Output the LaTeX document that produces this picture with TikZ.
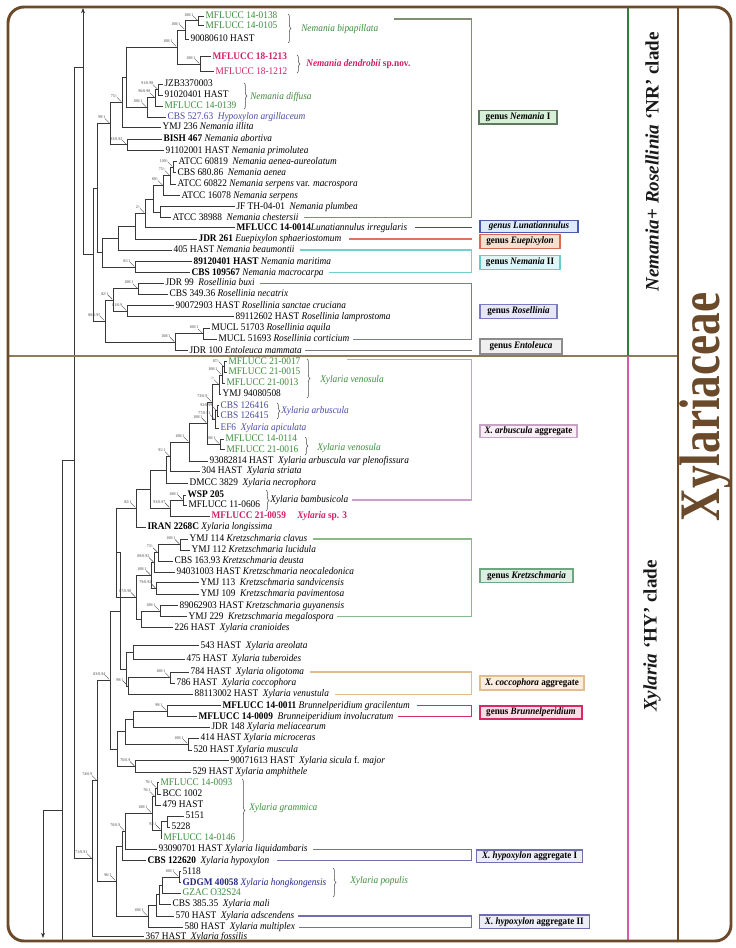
\documentclass[tikz,border=0pt]{standalone}
\usepackage{fontspec}
\setmainfont{Liberation Serif}
\newfontfamily\txf{Liberation Serif}[FakeStretch=0.92]
\usetikzlibrary{calc,decorations.pathreplacing,arrows.meta}
\definecolor{gr}{HTML}{3C8C3C}
\definecolor{mg}{HTML}{D01F66}
\definecolor{bl}{HTML}{4A4AA6}
\definecolor{db}{HTML}{26268C}
\definecolor{frm}{HTML}{6B4A2B}
\definecolor{trc}{HTML}{383838}
\definecolor{dvd}{HTML}{8C7B5B}
\definecolor{grl}{HTML}{2F7F3F}
\definecolor{pkl}{HTML}{D45BAA}
\newcommand\Gc[1]{\textcolor{gr}{#1}}
\newcommand\Bc[1]{\textcolor{bl}{#1}}
\newcommand\Mc[1]{\textcolor{mg}{#1}}
\newcommand\tn[4]{\node[taxon] (#1) at (#2-1,#3) {#4};}
\newcommand\nd[4]{\path let \p1=(#3), \p2=(#4) in ({#2*0.75pt},{0.5*\y1+0.5*\y2}) coordinate (#1);
  \draw[tree] (#1) |- (#3); \draw[tree] (#1) |- (#4);}
\newcommand\bs[2]{\node[bsl] at ($(#1)+(-4.5,-4.5)$) {#2};\draw[bst] ($(#1)+(-5,-5)$) -- ($(#1)+(-0.8,-0.8)$);}
\begin{document}
\begin{tikzpicture}[x=0.75pt,y=-0.75pt,
  taxon/.style={anchor=west,inner xsep=1pt,inner ysep=0pt,text height=5.2pt,text depth=1.6pt,font=\txf\fontsize{7.6}{8}\selectfont},
  spl/.style={anchor=west,inner sep=0pt,font=\txf\fontsize{7.6}{8}\selectfont\itshape},
  tree/.style={draw=trc,line width=0.55pt},
  bsl/.style={anchor=south east,inner sep=0pt,font=\txf\fontsize{3.2}{3.2}\selectfont,text=black!75},
  bst/.style={draw=black!70,line width=0.3pt},
  brc/.style={draw=black!70,line width=0.4pt,decorate,decoration={brace,amplitude=2.2pt}},
  bx/.style={line width=0.9pt,inner sep=0pt,font=\txf\fontsize{7.4}{8}\selectfont\bfseries},
  cl/.style={line width=0.8pt}]
\useasboundingbox (0,0) rectangle (735,948);
% ---------------- taxa ----------------
\tn{t1}{205}{16}{\Gc{MFLUCC 14-0138}}
\tn{t2}{205}{25.7}{\Gc{MFLUCC 14-0105}}
\tn{t3}{190}{39}{90080610 HAST}
\tn{t4}{212}{56.7}{\Mc{\bfseries MFLUCC 18-1213}}
\tn{t5}{215}{71.7}{\Mc{MFLUCC 18-1212}}
\tn{t6}{164}{84.3}{JZB3370003}
\tn{t7}{164}{95}{91020401 HAST}
\tn{t8}{164}{106}{\Gc{MFLUCC 14-0139}}
\tn{t9}{167}{117.3}{\Bc{CBS 527.63\ \ \textit{Hypoxylon argillaceum}}}
\tn{t10}{162}{127.3}{YMJ 236 \textit{Nemania illita}}
\tn{t11}{163}{139}{\textbf{BISH 467} \textit{Nemania abortiva}}
\tn{t12}{165}{150.7}{91102001 HAST \textit{Nemania primolutea}}
\tn{t13}{178}{161.7}{ATCC 60819\ \ \textit{Nemania aenea-aureolatum}}
\tn{t14}{177}{172.7}{CBS 680.86\ \ \textit{Nemania aenea}}
\tn{t15}{177}{184}{ATCC 60822 \textit{Nemania serpens} var. \textit{macrospora}}
\tn{t16}{181}{195.7}{ATCC 16078 \textit{Nemania serpens}}
\tn{t17}{236}{206.7}{JF TH-04-01\ \ \textit{Nemania plumbea}}
\tn{t18}{172}{217.7}{ATCC 38988\ \ \textit{Nemania chestersii}}
\tn{t19}{236}{227.7}{\textbf{MFLUCC 14-0014}\textit{Lunatiannulus irregularis}}
\tn{t20}{198}{239}{\textbf{JDR 261} \textit{Euepixylon sphaeriostomum}}
\tn{t21}{173}{250}{405 HAST \textit{Nemania beaumontii}}
\tn{t22}{193}{261.7}{\textbf{89120401 HAST} \textit{Nemania maritima}}
\tn{t23}{191}{272.7}{\textbf{CBS 109567} \textit{Nemania macrocarpa}}
\tn{t24}{165}{283.3}{JDR 99\ \ \textit{Rosellinia buxi}}
\tn{t25}{169}{294.3}{CBS 349.36 \textit{Rosellinia necatrix}}
\tn{t26}{175}{305.7}{90072903 HAST \textit{Rosellinia sanctae cruciana}}
\tn{t27}{235}{316.7}{89112602 HAST \textit{Rosellinia lamprostoma}}
\tn{t28}{211}{328.3}{MUCL 51703 \textit{Rosellinia aquila}}
\tn{t29}{218}{339.3}{MUCL 51693 \textit{Rosellinia corticium}}
\tn{t30}{189}{350.7}{JDR 100 \textit{Entoleuca mammata}}
\tn{t31}{228}{361.7}{\Gc{MFLUCC 21-0017}}
\tn{t32}{228}{372}{\Gc{MFLUCC 21-0015}}
\tn{t33}{226}{383.3}{\Gc{MFLUCC 21-0013}}
\tn{t34}{222}{394.3}{YMJ 94080508}
\tn{t35}{220}{405.7}{\Bc{CBS 126416}}
\tn{t36}{220}{416}{\Bc{CBS 126415}}
\tn{t37}{220}{428.3}{\Bc{EF6\ \ \textit{Xylaria apiculata}}}
\tn{t38}{225}{439}{\Gc{MFLUCC 14-0114}}
\tn{t39}{226}{449.7}{\Gc{MFLUCC 21-0016}}
\tn{t40}{209}{461}{93082814 HAST\ \ \textit{Xylaria arbuscula var plenofissura}}
\tn{t41}{201}{471.3}{304 HAST\ \ \textit{Xylaria striata}}
\tn{t42}{189}{483.3}{DMCC 3829\ \ \textit{Xylaria necrophora}}
\tn{t43}{187}{495}{\textbf{WSP 205}}
\tn{t44}{188}{505}{MFLUCC 11-0606}
\tn{t45}{211}{516}{\Mc{\bfseries MFLUCC 21-0059}}
\tn{t46}{147}{527.3}{\textbf{IRAN 2268C} \textit{Xylaria longissima}}
\tn{t47}{189}{539}{YMJ 114 \textit{Kretzschmaria clavus}}
\tn{t48}{191}{550}{YMJ 112 \textit{Kretzschmaria lucidula}}
\tn{t49}{174}{561}{CBS 163.93 \textit{Kretzschmaria deusta}}
\tn{t50}{176}{572.3}{94031003 HAST \textit{Kretzschmaria neocaledonica}}
\tn{t51}{200}{582.7}{YMJ 113\ \ \textit{Kretzschmaria sandvicensis}}
\tn{t52}{200}{594.3}{YMJ 109\ \ \textit{Kretzschmaria pavimentosa}}
\tn{t53}{179}{605.7}{89062903 HAST \textit{Kretzschmaria guyanensis}}
\tn{t54}{188}{616.7}{YMJ 229\ \ \textit{Kretzschmaria megalospora}}
\tn{t55}{174}{627.7}{226 HAST\ \ \textit{Xylaria cranioides}}
\tn{t56}{200}{645.7}{543 HAST\ \ \textit{Xylaria areolata}}
\tn{t57}{186}{659}{475 HAST\ \ \textit{Xylaria tuberoides}}
\tn{t58}{190}{672}{784 HAST\ \ \textit{Xylaria oligotoma}}
\tn{t59}{176}{683.3}{786 HAST\ \ \textit{Xylaria coccophora}}
\tn{t60}{194}{694.3}{88113002 HAST\ \ \textit{Xylaria venustula}}
\tn{t61}{222}{705.7}{\textbf{MFLUCC 14-0011} \textit{Brunnelperidium gracilentum}}
\tn{t62}{198}{716.7}{\textbf{MFLUCC 14-0009}\ \ \textit{Brunneiperidium involucratum}}
\tn{t63}{211}{727.3}{JDR 148 \textit{Xylaria meliacearum}}
\tn{t64}{200}{738.3}{414 HAST \textit{Xylaria microceras}}
\tn{t65}{193}{750}{520 HAST \textit{Xylaria muscula}}
\tn{t66}{230}{760.7}{90071613 HAST\ \ \textit{Xylaria sicula} f. \textit{major}}
\tn{t67}{192}{772.3}{529 HAST \textit{Xylaria amphithele}}
\tn{t68}{160}{782.7}{\Gc{MFLUCC 14-0093}}
\tn{t69}{162}{794}{BCC 1002}
\tn{t70}{162}{805}{479 HAST}
\tn{t71}{185}{816}{5151}
\tn{t72}{171}{827.3}{5228}
\tn{t73}{163}{838.3}{\Gc{MFLUCC 14-0146}}
\tn{t74}{158}{849.3}{93090701 HAST \textit{Xylaria liquidambaris}}
\tn{t75}{147}{860.7}{\textbf{CBS 122620}\ \ \textit{Xylaria hypoxylon}}
\tn{t76}{182}{871.7}{5118}
\tn{t77}{182}{882.7}{\textcolor{db}{\textbf{GDGM 40058} \textit{Xylaria hongkongensis}}}
\tn{t78}{182}{893.3}{\Gc{GZAC O32S24}}
\tn{t79}{172}{904.3}{CBS 385.35\ \ \textit{Xylaria mali}}
\tn{t80}{175}{916}{570 HAST\ \ \textit{Xylaria adscendens}}
\tn{t81}{184}{927.3}{580 HAST\ \ \textit{Xylaria multiplex}}
\tn{t82}{145}{936.7}{367 HAST\ \ \textit{Xylaria fossilis}}
% ---------------- tree: NR clade ----------------
\nd{A}{198}{t1.west}{t2.west}
\nd{B}{185}{A}{t3.west}
\nd{D}{200}{t4.west}{t5.west}
\nd{C}{177}{B}{D}
\nd{G}{158}{t6.west}{t7.west}
\nd{H}{155}{G}{t8.west}
\nd{I}{147}{H}{t9.west}
\nd{E}{126}{C}{I}
\nd{J}{122}{E}{t10.west}
\nd{L}{127}{t11.west}{t12.west}
\nd{K}{110}{J}{L}
\nd{M}{173}{t13.west}{t14.west}
\nd{N}{170}{M}{t15.west}
\nd{O}{163}{N}{t16.west}
\nd{Q}{160}{t17.west}{t18.west}
\nd{P}{153}{O}{Q}
\nd{U}{145}{P}{t19.west}
\nd{V}{135}{U}{t20.west}
\nd{W}{118}{V}{t21.west}
\nd{X2}{135}{t22.west}{t23.west}
\nd{Y}{102}{W}{X2}
\nd{T}{97}{K}{Y}
\nd{Z1}{138}{t24.west}{t25.west}
\nd{Z2}{127}{t26.west}{t27.west}
\nd{Z3}{113}{Z1}{Z2}
\nd{Z4}{203}{t28.west}{t29.west}
\nd{Z5}{175}{Z4}{t30.west}
\nd{Z6}{105}{Z3}{Z5}
\nd{S}{93}{T}{Z6}
% ---------------- tree: HY clade ----------------
\nd{a1}{224}{t31.west}{t32.west}
\nd{a2}{222}{a1}{t33.west}
\nd{a2b}{219}{a2}{t34.west}
\nd{b1}{217}{t35.west}{t36.west}
\nd{b2}{215}{b1}{t37.west}
\nd{a3}{212}{a2b}{b2}
\nd{c1}{220}{t38.west}{t39.west}
\nd{b3}{207}{a3}{c1}
\nd{d1}{189}{b3}{t40.west}
\nd{d2}{170}{d1}{t41.west}
\nd{d3}{166}{d2}{t42.west}
\nd{e1}{183}{t43.west}{t44.west}
\nd{e2}{170}{e1}{t45.west}
\nd{e3}{150}{d3}{e2}
\nd{e4}{136}{e3}{t46.west}
\nd{k1}{180}{t47.west}{t48.west}
\nd{k2}{158}{k1}{t49.west}
\nd{k3}{154}{k2}{t50.west}
\nd{k4}{156}{t51.west}{t52.west}
\nd{k5}{151}{k3}{k4}
\nd{k6}{160}{t53.west}{t54.west}
\nd{k7}{141}{k6}{t55.west}
\nd{k8}{136}{k5}{k7}
\nd{k9}{116}{e4}{k8}
\nd{f1}{133}{t56.west}{t57.west}
\nd{f2}{170}{t58.west}{t59.west}
\nd{f3}{128}{f2}{t60.west}
\nd{f4}{126}{f1}{f3}
\nd{h1}{120}{k9}{f4}
\nd{g1}{167}{t61.west}{t62.west}
\nd{g2}{133}{g1}{t63.west}
\nd{g3}{188}{t64.west}{t65.west}
\nd{g4}{125}{g2}{g3}
\nd{g5}{135}{t66.west}{t67.west}
\nd{g6}{117}{g4}{g5}
\nd{N3}{110}{h1}{g6}
\nd{m1}{157}{t68.west}{t69.west}
\nd{m2}{155}{m1}{t70.west}
\nd{m3}{167}{t71.west}{t72.west}
\nd{m4}{161}{m3}{t73.west}
\nd{m5}{152}{m2}{m4}
\nd{m6}{125}{m5}{t74.west}
\nd{m7}{122}{m6}{t75.west}
\nd{p1}{179}{t76.west}{t77.west}
\nd{p2}{162}{p1}{t78.west}
\nd{p3}{159}{p2}{t79.west}
\nd{p4}{156}{p3}{t80.west}
\nd{p5}{148}{p4}{t81.west}
\nd{N4}{116}{m7}{p5}
\nd{N2}{97}{N3}{N4}
\nd{N1}{92}{N2}{t82.west}
% ---------------- root lines ----------------
\coordinate (nrx) at (83,0);
\coordinate (r0) at (74,67);
\coordinate (r1) at (62,460);
\coordinate (r2) at (43,810);
\draw[tree] (S) -- (S -| nrx);
\draw[tree,-{Stealth[length=4pt,width=3pt]}] (S -| nrx) -- (83,8);
\draw[tree] (r0) -- (r0 -| nrx);
\draw[tree] (r0) |- (N1);
\draw[tree] (r1) -- (r1 -| r0);
\draw[tree] (r1) -- (62,940);
\draw[tree] (r2) -- (r2 -| r1);
\draw[tree,-{Stealth[length=4pt,width=3pt]}] (r2) -- (43,938);
% ---------------- support values ----------------
\bs{A}{100/1}\bs{B}{100/1}\bs{C}{100/1}\bs{D}{100/1}
\bs{G}{91/0.98}\bs{H}{96/0.98}\bs{I}{100/1}\bs{J}{75/-}\bs{K}{99/1}\bs{L}{93/0.92}
\bs{M}{100/-}\bs{N}{75/-}\bs{O}{89/-}\bs{U}{2/-}\bs{X2}{81/1}
\bs{Z1}{100/1}\bs{Z2}{81/0.9}\bs{Z3}{82/1}\bs{Z4}{100/1}\bs{Z5}{100/1}\bs{Z6}{88/0.95}
\bs{a1}{87/-}\bs{a2}{100/1}\bs{a2b}{-/-}\bs{a3}{73/0.9}\bs{b1}{93/0.99}\bs{b2}{77/0.51}
\bs{b3}{100/1}\bs{c1}{100/1}\bs{d1}{100/1}\bs{d2}{91/1}\bs{e1}{100/1}\bs{e2}{93/0.97}\bs{e4}{82/1}
\bs{k1}{100/1}\bs{k2}{73/-}\bs{k3}{89/0.92}\bs{k4}{79/0.92}\bs{k5}{100/1}\bs{k6}{100/1}\bs{k8}{67/0.98}
\bs{N3}{83/0.94}\bs{f2}{100/1}\bs{f3}{99/1}\bs{g1}{99/1}\bs{g3}{100/1}\bs{g5}{76/0.9}
\bs{N2}{74/0.9}\bs{N1}{71/0.91}\bs{m1}{76/1}\bs{m2}{76/1}\bs{m5}{100/1}\bs{m4}{93/1}\bs{m6}{70/0.9}
\bs{N4}{96/1}\bs{p1}{100/1}\bs{p5}{100/1}
% ---------------- species braces ----------------
\draw[brc] (288,14) -- (288,43);   \node[spl,text=gr] (sp1) at (301,29.3) {Nemania bipapillata};
\draw[brc] (297,55) -- (297,73);   \node[spl,text=mg,font=\txf\fontsize{7.6}{8}\selectfont\bfseries] (sp2) at (306,64) {\textit{Nemania dendrobii} sp.nov.};
\draw[brc] (244,83) -- (244,109);  \node[spl,text=gr] (sp3) at (250,97) {Nemania diffusa};
\draw[brc] (307,359) -- (307,398); \node[spl,text=gr] (sp4) at (320,380) {Xylaria venosula};
\draw[brc] (277,403) -- (277,419); \node[spl,text=bl] (sp5) at (281,411) {Xylaria arbuscula};
\draw[brc] (305,437) -- (305,455); \node[spl,text=gr] (sp6) at (317,448) {Xylaria venosula};
\draw[brc] (266,490) -- (266,511); \node[spl] (sp7) at (270,500) {Xylaria bambusicola};
\draw[brc] (242,779) -- (242,842); \node[spl,text=gr] (sp8) at (249,808) {Xylaria grammica};
\draw[brc] (333,868) -- (333,897); \node[spl,text=gr] (sp9) at (350,881) {Xylaria populis};
\node[spl,text=mg,font=\txf\fontsize{7.6}{8}\selectfont\bfseries] (sp10) at (297,516) {\textit{Xylaria} sp. 3};
% ---------------- group connectors ----------------
\coordinate (kx) at (471.5,0);
\coordinate (q1s) at (394,19);
\coordinate (q7s) at (347,359.5);
\draw[cl,draw={rgb,255:red,127;green,143;blue,112}] (q1s) -- (q1s -| kx) -- (t18.east -| kx) -- ($(t18.east)+(4,0)$);
\draw[cl,draw={rgb,255:red,58;green,74;blue,160}] ($(t19.east)+(6,0)$) -- (t19.east -| kx);
\draw[cl,draw={rgb,255:red,224;green,112;blue,96}] ($(t20.east)+(6,0)$) -- (t20.east -| kx);
\draw[cl,draw={rgb,255:red,112;green,208;blue,208}] ($(t21.east)+(4,0)$) -- (t21.east -| kx) -- (t23.east -| kx) -- ($(t23.east)+(4,0)$);
\draw[cl,draw={rgb,255:red,119;green,119;blue,192}] ($(t24.east)+(4,0)$) -- (t24.east -| kx) -- (t29.east -| kx) -- ($(t29.east)+(2,0)$);
\draw[cl,draw={rgb,255:red,119;green,119;blue,119}] ($(t30.east)+(2,0)$) -- (t30.east -| kx);
\draw[cl,draw={rgb,255:red,200;green,160;blue,200}] (q7s) -- (q7s -| kx) -- (sp7.east -| kx) -- ($(sp7.east)+(4,0)$);
\draw[cl,draw={rgb,255:red,136;green,187;blue,136}] ($(t47.east)+(4,0)$) -- (t47.east -| kx) -- (t54.east -| kx) -- ($(t54.east)+(2,0)$);
\draw[cl,draw={rgb,255:red,224;green,188;blue,140}] ($(t58.east)+(4,0)$) -- (t58.east -| kx) -- (t60.east -| kx) -- ($(t60.east)+(4,0)$);
\draw[cl,draw={rgb,255:red,208;green,48;blue,106}] ($(t61.east)+(6,0)$) -- (t61.east -| kx) -- (t62.east -| kx) -- ($(t62.east)+(3,0)$);
\draw[cl,draw={rgb,255:red,112;green,112;blue,176}] ($(t74.east)+(4,0)$) -- (t74.east -| kx) -- (t75.east -| kx) -- ($(t75.east)+(6,0)$);
\draw[cl,draw={rgb,255:red,112;green,112;blue,176}] ($(t80.east)+(2,0)$) -- (t80.east -| kx) -- (t81.east -| kx) -- ($(t81.east)+(2,0)$);
% ---------------- group boxes ----------------
\node[bx,draw={rgb,255:red,94;green,122;blue,94},fill={rgb,255:red,216;green,239;blue,216},minimum width={78*0.75pt},minimum height={13.3*0.75pt}] (g1b) at (518,117.3) {genus \textit{Nemania} I};
\node[bx,draw={rgb,255:red,74;green,91;blue,176},fill={rgb,255:red,221;green,235;blue,250},minimum width={98*0.75pt},minimum height={12.7*0.75pt}] (g2b) at (529,226.5) {\textit{genus Lunatiannulus}};
\node[bx,draw={rgb,255:red,217;green,105;blue,79},fill={rgb,255:red,246;green,223;blue,207},minimum width={80*0.75pt},minimum height={14*0.75pt}] (g3b) at (520,241.3) {genus \textit{Euepixylon}};
\node[bx,draw={rgb,255:red,102;green,204;blue,204},fill={rgb,255:red,226;green,245;blue,245},minimum width={80*0.75pt},minimum height={13.6*0.75pt}] (g4b) at (520,262.5) {genus \textit{Nemania} II};
\node[bx,draw={rgb,255:red,123;green,123;blue,192},fill={rgb,255:red,230;green,230;blue,245},minimum width={77*0.75pt},minimum height={14*0.75pt}] (g5b) at (518.5,311.3) {genus \textit{Rosellinia}};
\node[bx,draw={rgb,255:red,140;green,140;blue,140},fill={rgb,255:red,239;green,239;blue,239},minimum width={82*0.75pt},minimum height={15*0.75pt}] (g6b) at (521,346.5) {genus \textit{Entoleuca}};
\node[bx,draw={rgb,255:red,201;green,163;blue,196},fill={rgb,255:red,249;green,238;blue,245},minimum width={97*0.75pt},minimum height={12.7*0.75pt}] (g7b) at (528.5,431.3) {\textit{X. arbuscula} aggregate};
\node[bx,draw={rgb,255:red,111;green,166;blue,127},fill={rgb,255:red,220;green,239;blue,227},minimum width={93*0.75pt},minimum height={13.3*0.75pt}] (g8b) at (526.5,575.7) {genus \textit{Kretzschmaria}};
\node[bx,draw={rgb,255:red,224;green,190;blue,142},fill={rgb,255:red,252;green,237;blue,224},minimum width={104*0.75pt},minimum height={14*0.75pt}] (g9b) at (532,683) {\textit{X. coccophora} aggregate};
\node[bx,draw={rgb,255:red,212;green,42;blue,102},fill={rgb,255:red,249;green,220;blue,228},minimum width={102*0.75pt},minimum height={13*0.75pt}] (g10b) at (531,712.5) {genus \textit{Brunnelperidium}};
\node[bx,draw={rgb,255:red,110;green,110;blue,176},fill={rgb,255:red,237;green,237;blue,248},minimum width={106*0.75pt},minimum height={12.7*0.75pt}] (g11b) at (529.7,856.3) {\textit{X. hypoxylon} aggregate I};
\node[bx,draw={rgb,255:red,110;green,110;blue,176},fill={rgb,255:red,237;green,237;blue,248},minimum width={110*0.75pt},minimum height={13.3*0.75pt}] (g12b) at (534.3,921.7) {\textit{X. hypoxylon} aggregate II};
% ---------------- frame and clade bars ----------------
\draw[dvd,line width=1.1pt] (8,356) -- (678,356);
\draw[grl,line width=1.5pt] (627.5,7) -- (627.5,356);
\draw[pkl,line width=1.5pt] (627.5,356) -- (627.5,941);
\draw[frm,line width=1.5pt] (678,7) -- (678,941);
\draw[frm,line width=2.2pt,rounded corners=12pt] (8,7) rectangle (731,941);
\node[rotate=90,inner sep=0pt,font=\fontsize{14.3}{15}\selectfont\bfseries,text=black!90] (nrl) at (652,162) {\textit{Nemania}+ \textit{Rosellinia} ‘NR’ clade};
\node[rotate=90,inner sep=0pt,font=\fontsize{14.3}{15}\selectfont\bfseries,text=black!90] (hyl) at (652,636) {\textit{Xylaria} ‘HY’ clade};
\node[rotate=90,inner sep=0pt,text=frm] (fam) at (706,407) {\scalebox{0.79}[1]{\fontsize{43}{43}\selectfont\bfseries Xylariaceae}};
\end{tikzpicture}
\end{document}
